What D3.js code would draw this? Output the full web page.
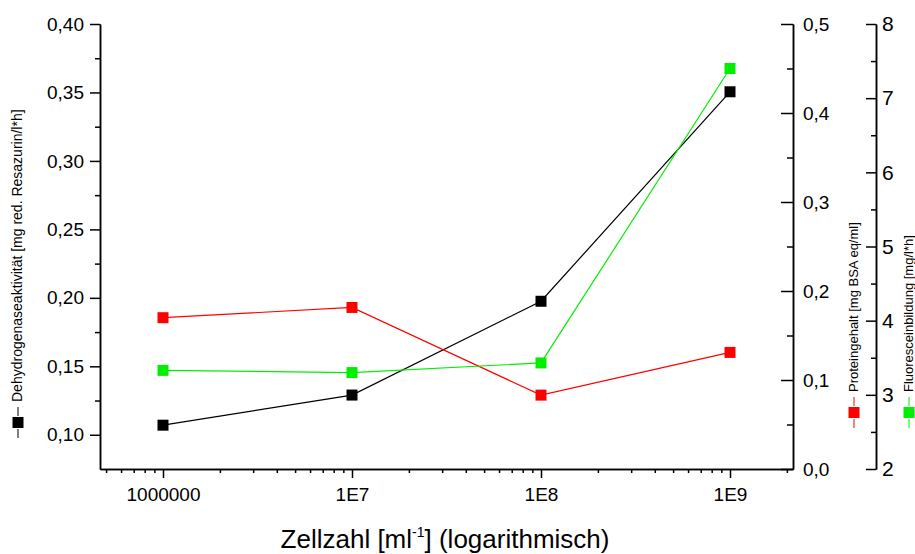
<!DOCTYPE html>
<meta charset="utf-8">
<style>
  body { margin: 0; background: #fff; }
  svg text { font-family: "Liberation Sans", Arial, sans-serif; fill: #000; }
  .axis path, .axis line { stroke: #000; stroke-width: 1.5; }
</style>
<body>
<script src="https://d3js.org/d3.v7.min.js"></script>
<script>

// Data
var zellzahl = [1e6, 1e7, 1e8, 1e9];
var dehydrogenase = [0.107, 0.129, 0.1975, 0.3505];   // left axis
var protein = [0.170, 0.1815, 0.083, 0.131];           // middle right axis
var fluorescein = [3.33, 3.30, 3.43, 7.40];            // far right axis

var xTicks = [1e6, 1e7, 1e8, 1e9];
var xTickLabels = ["1000000", "1E7", "1E8", "1E9"];
var leftTicks = [0.10, 0.15, 0.20, 0.25, 0.30, 0.35, 0.40];
var midTicks = [0, 0.1, 0.2, 0.3, 0.4, 0.5];
var rightTicks = [2, 3, 4, 5, 6, 7, 8];

var width = 915, height = 554;
var plot = {left: 100, right: 793, top: 24, bottom: 469};

var svg = d3.select("body").append("svg")
    .attr("width", width)
    .attr("height", height);

var x = d3.scaleLog()
    .domain([Math.pow(10, 6 - 1/3), Math.pow(10, 9 + 1/3)])
    .range([plot.left, plot.right]);

var yL = d3.scaleLinear().domain([0.075, 0.40]).range([plot.bottom, plot.top]);
var yM = d3.scaleLinear().domain([0, 0.5]).range([plot.bottom, plot.top]);
var yR = d3.scaleLinear().domain([2, 8]).range([plot.bottom, plot.top]);

var comma = function(digits) {
  return function(d) { return d.toFixed(digits).replace(".", ","); };
};

// minor ticks on the log axis: 2..9 in each decade
var xMinor = [];
for (var e = 5; e <= 9; e++) {
  for (var m = 2; m <= 9; m++) {
    var v = m * Math.pow(10, e);
    if (v > x.domain()[0] && v < x.domain()[1]) xMinor.push(v);
  }
}

// bottom axis
svg.append("g").attr("class", "axis")
    .attr("transform", "translate(0," + plot.bottom + ")")
    .call(d3.axisBottom(x).tickValues(xMinor).tickSize(4).tickSizeOuter(0).tickFormat(""));
svg.append("g").attr("class", "axis")
    .attr("transform", "translate(0," + plot.bottom + ")")
    .call(d3.axisBottom(x).tickValues(xTicks).tickSize(9).tickSizeOuter(0).tickPadding(10)
      .tickFormat(function(d, i) { return xTickLabels[i]; }))
    .call(function(g) { g.selectAll("text").style("font-size", "19px"); });

// left axis
svg.append("g").attr("class", "axis")
    .attr("transform", "translate(" + plot.left + ",0)")
    .call(d3.axisLeft(yL).tickValues(d3.range(0.1, 0.4, 0.05).map(function(d) { return d + 0.025; }))
      .tickSize(5).tickSizeOuter(0).tickFormat(""));
svg.append("g").attr("class", "axis")
    .attr("transform", "translate(" + plot.left + ",0)")
    .call(d3.axisLeft(yL).tickValues(leftTicks).tickSize(10).tickSizeOuter(0).tickPadding(6)
      .tickFormat(comma(2)))
    .call(function(g) { g.selectAll("text").style("font-size", "19px"); });

// middle right axis, ticks pointing inward
svg.append("g").attr("class", "axis")
    .attr("transform", "translate(" + plot.right + ",0)")
    .call(d3.axisRight(yM).tickValues([0.05, 0.15, 0.25, 0.35, 0.45])
      .tickSizeInner(-6).tickSizeOuter(0).tickFormat(""));
svg.append("g").attr("class", "axis")
    .attr("transform", "translate(" + plot.right + ",0)")
    .call(d3.axisRight(yM).tickValues(midTicks).tickSizeInner(-12).tickSizeOuter(0).tickPadding(10)
      .tickFormat(comma(1)))
    .call(function(g) { g.selectAll("text").style("font-size", "19px"); });

// far right axis
var rx = 876;
svg.append("g").attr("class", "axis")
    .attr("transform", "translate(" + rx + ",0)")
    .call(d3.axisRight(yR).tickValues([2.5, 3.5, 4.5, 5.5, 6.5, 7.5])
      .tickSizeInner(-5).tickSizeOuter(0).tickFormat(""));
svg.append("g").attr("class", "axis")
    .attr("transform", "translate(" + rx + ",0)")
    .call(d3.axisRight(yR).tickValues(rightTicks).tickSizeInner(-10).tickSizeOuter(0).tickPadding(6)
      .tickFormat(d3.format("d")))
    .call(function(g) { g.selectAll("text").style("font-size", "21px"); });

// series
var series = [
  {values: dehydrogenase, y: yL, color: "#000000"},
  {values: protein, y: yM, color: "#ff0000"},
  {values: fluorescein, y: yR, color: "#00ee00"}
];

series.forEach(function(s) {
  var pts = zellzahl.map(function(z, i) { return [z, s.values[i]]; });
  svg.append("path")
      .datum(pts)
      .attr("fill", "none")
      .attr("stroke", s.color)
      .attr("stroke-width", 1.2)
      .attr("d", d3.line().x(function(d) { return x(d[0]); }).y(function(d) { return s.y(d[1]); }));
  svg.selectAll(null)
      .data(pts)
    .enter().append("rect")
      .attr("x", function(d) { return x(d[0]) - 5.5; })
      .attr("y", function(d) { return s.y(d[1]) - 5.5; })
      .attr("width", 11)
      .attr("height", 11)
      .attr("fill", s.color);
});

// rotated legend / axis titles
function legendTitle(tx, ty, color, label, size) {
  var g = svg.append("g").attr("transform", "translate(" + tx + "," + ty + ") rotate(-90)");
  g.append("line").attr("x1", 0).attr("x2", 9).attr("y1", -4).attr("y2", -4)
      .attr("stroke", color).attr("stroke-width", 1);
  g.append("rect").attr("x", 10).attr("y", -9.5).attr("width", 11).attr("height", 11).attr("fill", color);
  g.append("line").attr("x1", 22).attr("x2", 31).attr("y1", -4).attr("y2", -4)
      .attr("stroke", color).attr("stroke-width", 1);
  g.append("text").attr("x", 36).attr("y", 0)
      .style("font-size", size + "px")
      .text(label);
}

legendTitle(22, 438, "#000000", "Dehydrogenaseaktivität [mg red. Resazurin/l*h]", 14);
legendTitle(858, 428, "#ff0000", "Proteingehalt [mg BSA eq/ml]", 13);
legendTitle(913, 428, "#00ee00", "Fluoresceinbildung [mg/l*h]", 13);

// x axis title
var xt = svg.append("text")
    .attr("x", 445)
    .attr("y", 548)
    .attr("text-anchor", "middle")
    .style("font-size", "26px");
xt.append("tspan").text("Zellzahl [ml");
xt.append("tspan").attr("dy", -11).style("font-size", "14px").text("-1");
xt.append("tspan").attr("dy", 11).text("] (logarithmisch)");

</script>
</body>
